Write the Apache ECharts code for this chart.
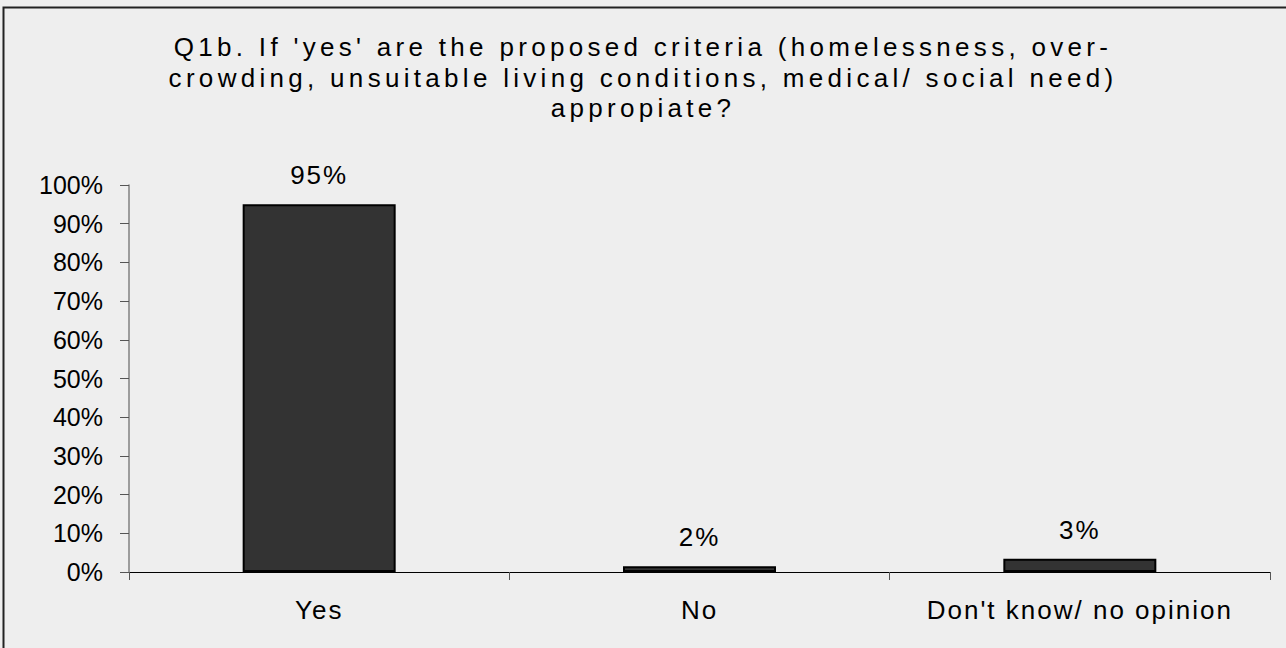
<!DOCTYPE html>
<html>
<head>
<meta charset="utf-8">
<script src="https://cdn.jsdelivr.net/npm/echarts@6/dist/echarts.min.js"></script>
<style>
  html, body { margin: 0; padding: 0; background: #eeeeee; }
  #chart { width: 1286px; height: 648px; }
  #chart text[style*="Liberation"] { letter-spacing: 4.3px; }
  #chart text[style*="Arial"][text-anchor="middle"] { letter-spacing: 2px; }
</style>
</head>
<body>
<div id="chart"></div>
<script>
const titleText = "Q1b. If 'yes' are the proposed criteria (homelessness, over-\ncrowding, unsuitable living conditions, medical/ social need)\nappropiate?";
const categories = ["Yes", "No", "Don't know/ no opinion"];
const values = [95, 1.5, 3.4];
const yTicks = [0, 10, 20, 30, 40, 50, 60, 70, 80, 90, 100];

const chart = echarts.init(document.getElementById('chart'), null, { renderer: 'svg' });
chart.setOption({
  backgroundColor: '#eeeeee',
  animation: false,
  title: {
    text: titleText,
    left: 'center',
    top: 27,
    textStyle: {
      fontFamily: 'Liberation Sans',
      fontSize: 26,
      fontWeight: 'normal',
      color: '#000',
      lineHeight: 30.5
    }
  },
  graphic: [{
    type: 'rect',
    shape: { x: 3.5, y: 7.5, width: 1320, height: 700 },
    style: { fill: 'none', stroke: '#222', lineWidth: 2 },
    silent: true
  }],
  grid: { left: 129, right: 16, top: 185, bottom: 76 },
  xAxis: {
    type: 'category',
    data: categories,
    axisLine: { lineStyle: { color: '#000', width: 1 } },
    axisTick: { show: true, length: 8, lineStyle: { color: '#555' } },
    axisLabel: { margin: 25, fontFamily: 'Arial', fontSize: 26, color: '#000' }
  },
  yAxis: {
    type: 'value',
    min: 0,
    max: 100,
    interval: 10,
    axisLine: { show: true, lineStyle: { color: '#808080', width: 1.5 } },
    axisTick: { show: true, length: 9, lineStyle: { color: '#555' } },
    splitLine: { show: false },
    axisLabel: {
      margin: 26,
      fontFamily: 'Arial',
      fontSize: 25,
      color: '#000',
      formatter: function (v) { return yTicks.indexOf(v) >= 0 ? v + '%' : ''; }
    }
  },
  series: [{
    type: 'bar',
    data: values,
    barWidth: 153,
    itemStyle: { color: '#333333', borderColor: '#000', borderWidth: 2 },
    label: {
      show: true,
      position: 'top',
      distance: 16,
      fontFamily: 'Arial',
      fontSize: 26,
      color: '#000',
      formatter: function (p) { return Math.round(p.value) + '%'; }
    }
  }]
});
</script>
</body>
</html>
